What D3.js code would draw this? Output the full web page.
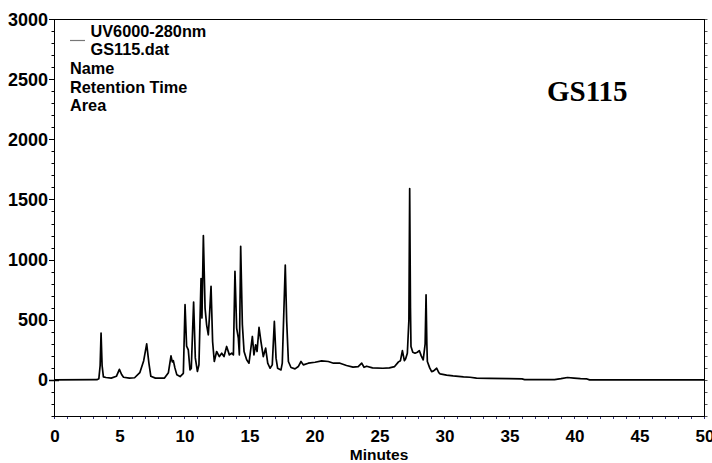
<!DOCTYPE html>
<html>
<head>
<meta charset="utf-8">
<script src="https://cdn.jsdelivr.net/npm/d3@7"></script>
<style>
  html, body { margin: 0; padding: 0; background: #fff; }
  svg { display: block; }
  text { font-family: "Liberation Sans", Arial, Helvetica, sans-serif; font-weight: bold; fill: #000; }
</style>
</head>
<body>
<svg id="chart" width="712" height="463"></svg>
<script>
// Chromatogram trace: retention time (minutes) and detector response
const times = [
  0, 3.3, 3.45, 3.55, 3.62, 3.7, 3.8, 4.0, 4.4, 4.8, 5.03, 5.2, 5.35, 5.8, 6.2, 6.6, 6.9, 7.13, 7.3, 7.45,
  7.8, 8.5, 8.8, 9.0, 9.1, 9.18, 9.3, 9.45, 9.7, 9.95, 10.08, 10.2, 10.33, 10.46, 10.56, 10.74, 10.87, 11.03,
  11.15, 11.31, 11.38, 11.49, 11.62, 11.74, 11.87, 11.95, 12.08, 12.2, 12.33, 12.51, 12.72, 12.9, 13.08,
  13.28, 13.49, 13.67, 13.8, 13.92, 14.05, 14.18, 14.26, 14.36, 14.49, 14.62, 14.82, 15.0, 15.26, 15.38,
  15.51, 15.62, 15.77, 15.92, 16.1, 16.28, 16.44, 16.62, 16.79, 16.95, 17.08, 17.2, 17.46, 17.56, 17.79,
  17.9, 18.03, 18.23, 18.54, 18.79, 19.0, 19.18, 19.56, 20.08, 20.59, 21.1, 21.5, 22.0, 22.5, 23.0, 23.4,
  23.67, 23.85, 24.05, 24.5, 25.3, 25.8, 26.2, 26.5, 26.65, 26.8, 26.95, 27.05, 27.18, 27.3, 27.36, 27.42,
  27.46, 27.6, 27.77, 27.95, 28.1, 28.25, 28.4, 28.55, 28.62, 28.68, 28.72, 28.9, 29.05, 29.2, 29.44, 29.6,
  29.7, 30.2, 30.7, 31.5, 32.0, 32.5, 33.5, 35.0, 36.0, 36.2, 38.5, 39.0, 39.5, 40.0, 40.5, 41.0, 41.2, 50
];
const response = [
  0, 2, 10, 120, 390, 120, 25, 20, 15, 30, 88, 45, 22, 15, 18, 60, 160, 300, 140, 30,
  15, 15, 60, 200, 150, 160, 100, 42, 28, 55, 625, 280, 250, 83, 95, 647, 183, 70,
  125, 842, 514, 1200, 597, 458, 375, 514, 778, 319, 153, 236, 194, 222, 194,
  278, 208, 222, 208, 903, 431, 347, 208, 1110, 458, 236, 167, 139, 361, 208,
  292, 236, 436, 319, 194, 264, 139, 97, 125, 486, 181, 97, 83, 139, 955,
  486, 153, 103, 92, 111, 153, 125, 139, 147, 158, 153, 139, 139, 120, 106, 110,
  139, 105, 114, 100, 97, 100, 111, 150, 160, 244, 160, 175, 222, 500, 1590, 600,
  278, 230, 222, 230, 244, 200, 167, 300, 708, 300, 153, 100, 69, 75, 97, 60,
  50, 40, 33, 25, 22, 15, 12, 10, 8, 3, 3, 10, 20, 15, 10, 8, 0, 0
];

// Axis ticks
const xTickValues = [0, 5, 10, 15, 20, 25, 30, 35, 40, 45, 50];
const yTickValues = [0, 500, 1000, 1500, 2000, 2500, 3000];

// Legend and annotation text
const legendLines = ["UV6000-280nm", "GS115.dat"];
const legendFields = ["Name", "Retention Time", "Area"];
const sampleLabel = "GS115";
const xAxisTitle = "Minutes";

(function draw() {
  const svg = d3.select("#chart");
  const plotLeft = 54, plotRight = 704, plotTop = 19, plotBottom = 416;

  const x = d3.scaleLinear().domain([0, 50]).range([plotLeft, plotRight]);
  const y = d3.scaleLinear().domain([-300, 3000]).range([plotBottom, plotTop]);

  // Frame
  svg.append("rect")
    .attr("x", plotLeft + 0.5).attr("y", plotTop + 0.5)
    .attr("width", plotRight - plotLeft).attr("height", plotBottom - plotTop)
    .attr("fill", "none").attr("stroke", "#000").attr("stroke-width", 1);

  // Left axis: minor ticks every 100, major every 500
  const minorY = d3.range(-300, 3001, 100);
  const gy = svg.append("g");
  gy.selectAll("line.minor").data(minorY).join("line")
    .attr("class", "minor")
    .attr("x1", plotLeft - 2.5).attr("x2", plotLeft)
    .attr("y1", d => Math.round(y(d)) + 0.5).attr("y2", d => Math.round(y(d)) + 0.5)
    .attr("stroke", "#000");
  gy.selectAll("line.major").data(yTickValues).join("line")
    .attr("class", "major")
    .attr("x1", plotLeft - 5).attr("x2", d => d === 0 ? plotLeft + 5 : plotLeft)
    .attr("y1", d => Math.round(y(d)) + 0.5).attr("y2", d => Math.round(y(d)) + 0.5)
    .attr("stroke", "#000").attr("stroke-width", d => d === 0 ? 1.5 : 1);
  gy.selectAll("text").data(yTickValues).join("text")
    .attr("x", 48).attr("y", d => y(d) + 6.5)
    .attr("text-anchor", "end").attr("font-size", 18)
    .text(d => d);

  // Right axis minor ticks
  svg.append("g").selectAll("line").data(minorY).join("line")
    .attr("x1", plotRight + 1).attr("x2", plotRight + 3.5)
    .attr("y1", d => Math.round(y(d)) + 0.5).attr("y2", d => Math.round(y(d)) + 0.5)
    .attr("stroke", "#555");

  // Bottom axis: ticks every minute
  const gx = svg.append("g");
  gx.selectAll("line").data(d3.range(0, 51, 1)).join("line")
    .attr("x1", d => Math.round(x(d)) + 0.5).attr("x2", d => Math.round(x(d)) + 0.5)
    .attr("y1", plotBottom + 1).attr("y2", plotBottom + 3)
    .attr("stroke", "#33337a");
  gx.selectAll("text").data(xTickValues).join("text")
    .attr("x", d => x(d) + 1).attr("y", 442)
    .attr("text-anchor", "middle").attr("font-size", 17)
    .text(d => d);

  svg.append("text")
    .attr("x", 379).attr("y", 460)
    .attr("text-anchor", "middle").attr("font-size", 15.5)
    .text(xAxisTitle);

  // Trace
  const trace = times.map((t, i) => [t, response[i]]);
  const line = d3.line().x(d => x(d[0])).y(d => y(d[1]));
  svg.append("path")
    .datum(trace)
    .attr("d", line)
    .attr("fill", "none")
    .attr("stroke", "#000")
    .attr("stroke-width", 1.7)
    .attr("stroke-linejoin", "round");

  // Legend
  svg.append("line")
    .attr("x1", 70).attr("x2", 85).attr("y1", 40.5).attr("y2", 40.5)
    .attr("stroke", "#777").attr("stroke-width", 1.2);
  svg.selectAll("text.leg").data(legendLines).join("text")
    .attr("class", "leg")
    .attr("x", 90.5).attr("y", (d, i) => 36.5 + i * 18.5)
    .attr("font-size", 16.3)
    .text(d => d);
  svg.selectAll("text.field").data(legendFields).join("text")
    .attr("class", "field")
    .attr("x", 70).attr("y", (d, i) => 74 + i * 18.7)
    .attr("font-size", 16.3)
    .text(d => d);

  // Sample label
  svg.append("text")
    .attr("x", 547).attr("y", 100.5)
    .attr("font-size", 29)
    .style("font-family", "'Liberation Serif', 'Times New Roman', serif")
    .text(sampleLabel);
})();
</script>
</body>
</html>
